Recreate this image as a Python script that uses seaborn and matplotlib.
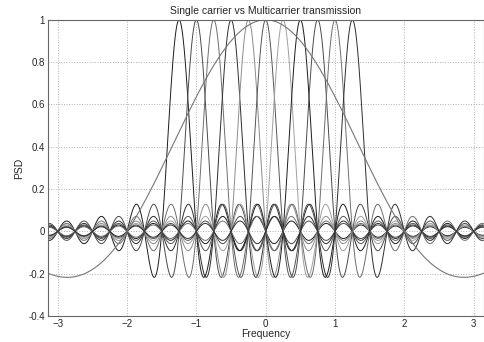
import numpy as np
import pandas as pd
import seaborn as sns
import matplotlib.pyplot as plt

# carrier centre frequencies
carrier_centres = [-1.25, -1.0, -0.75, -0.5, -0.25, 0.0, 0.25, 0.5, 0.75, 1.0, 1.25]
carrier_spacing = 0.25      # first nulls of each sub-carrier
single_bw = 2.0             # first null of the single carrier
x_ticks = [-3, -2, -1, 0, 1, 2, 3]
y_ticks = [-0.4, -0.2, 0, 0.2, 0.4, 0.6, 0.8, 1]
y_tick_labels = ['-0.4', '-0.2', '0', '0.2', '0.4', '0.6', '0.8', '1']

freq = np.linspace(-np.pi, np.pi, 1500)

rows = []
for i, fc in enumerate(carrier_centres):
    rows.append(pd.DataFrame({'f': freq, 'psd': np.sinc((freq - fc) / carrier_spacing), 'curve': f'c{i}'}))
multi = pd.concat(rows, ignore_index=True)
single = pd.DataFrame({'f': freq, 'psd': np.sinc(freq / single_bw)})

grays = ['#1c1c1c', '#4a4a4a', '#6e6e6e', '#2e2e2e', '#8c8c8c', '#555555', '#a0a0a0']
palette = {f'c{i}': grays[i % len(grays)] for i in range(len(carrier_centres))}

sns.set_style('white')
plt.rcParams['font.family'] = ['Liberation Sans', 'DejaVu Sans']

fig = plt.figure(figsize=(4.84, 3.42), dpi=100)
ax = fig.add_axes([0.099, 0.076, 0.9, 0.866])

sns.lineplot(data=multi, x='f', y='psd', hue='curve', palette=palette,
             legend=False, linewidth=0.7, ax=ax, sort=False, estimator=None)
sns.lineplot(data=single, x='f', y='psd', color='#777777', linewidth=0.8, ax=ax,
             sort=False, estimator=None)

ax.set_xlim(-np.pi, np.pi)
ax.set_ylim(-0.4, 1)
ax.set_xticks(x_ticks)
ax.set_yticks(y_ticks)
ax.set_yticklabels(y_tick_labels)
ax.grid(True, linestyle=':', color='#b0b0b0', linewidth=0.7)
ax.tick_params(direction='in', length=3, labelsize=7, color='#555555', pad=2)
for s in ax.spines.values():
    s.set_color('#666666')
    s.set_linewidth(0.8)

ax.set_title('Single carrier vs Multicarrier transmission', fontsize=7.5, pad=4)
ax.set_xlabel('Frequency', fontsize=7.5, labelpad=0)
ax.set_ylabel('PSD', fontsize=7.5, labelpad=3)

fig.savefig('out.png', dpi=100)
